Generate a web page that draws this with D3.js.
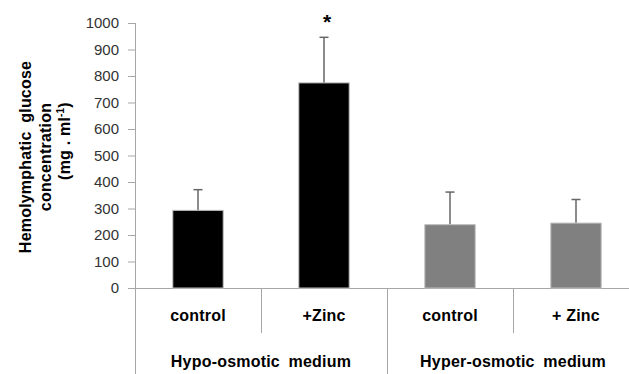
<html>
<script src='https://d3js.org/d3.v7.min.js'></script>
<style>
  body { margin: 0; background: #fff; }
  .lab { font-family: 'Liberation Sans', Arial, sans-serif; font-weight: bold; letter-spacing: 0.2px; fill: #000; }
</style>
<body onload='init()'>
<svg width=629 height=374></svg>
<script>
const categories = ['control', '+Zinc', 'control', '+ Zinc'];
const groups = ['Hypo-osmotic medium', 'Hyper-osmotic medium'];
const means = [293, 774, 239, 245];
const errors = [78, 172, 123, 89];
const barColors = ['#000000', '#000000', '#808080', '#808080'];
const yTicks = [0, 100, 200, 300, 400, 500, 600, 700, 800, 900, 1000];

function init() {
  const svg = d3.select('svg');
  const ids = d3.range(categories.length);
  const x = d3.scaleBand().domain(ids).range([135, 639]).paddingInner(0.6).paddingOuter(0.3);
  const y = d3.scaleLinear().domain([0, 1000]).range([288, 23]);
  const axisCol = '#a6a6a6';

  // y axis
  const ya = svg.append('g').attr('transform', 'translate(135,0)')
    .call(d3.axisLeft(y).tickValues(yTicks).tickFormat(d3.format('d')).tickSize(7).tickPadding(9));
  ya.select('.domain').remove();
  ya.selectAll('line').attr('stroke', axisCol);
  ya.selectAll('text').attr('font-family', "'Liberation Sans', Arial, sans-serif")
    .attr('font-size', 15).attr('fill', '#333');

  // axis lines and category dividers
  svg.append('line').attr('x1', 135.5).attr('x2', 135.5).attr('y1', y(1000)).attr('y2', 374).attr('stroke', axisCol);
  svg.append('line').attr('x1', 135).attr('x2', 629).attr('y1', y(0) + 0.5).attr('y2', y(0) + 0.5).attr('stroke', axisCol);
  const step = x.step();
  ids.forEach(i => {
    if (i === 0) return;
    const xx = Math.round(135 + i * step) + 0.5;
    svg.append('line').attr('x1', xx).attr('x2', xx).attr('y1', y(0))
      .attr('y2', i % 2 === 0 ? 374 : 333).attr('stroke', axisCol);
  });

  // error bars
  const eb = svg.append('g').attr('stroke', '#666').attr('stroke-width', 1.5);
  ids.forEach(i => {
    const cx = x(i) + x.bandwidth() / 2;
    eb.append('line').attr('x1', cx).attr('x2', cx).attr('y1', y(means[i])).attr('y2', y(means[i] + errors[i]));
    eb.append('line').attr('x1', cx - 4.5).attr('x2', cx + 4.5).attr('y1', y(means[i] + errors[i])).attr('y2', y(means[i] + errors[i]));
  });

  // bars
  svg.append('g').selectAll('rect').data(ids).enter().append('rect')
    .attr('x', i => x(i)).attr('width', x.bandwidth())
    .attr('y', i => y(means[i])).attr('height', i => y(0) - y(means[i]))
    .attr('fill', i => barColors[i]).attr('stroke', '#bfbfbf').attr('stroke-width', 1);

  // significance mark
  svg.append('text').attr('x', x(1) + x.bandwidth() / 2 + 3).attr('y', y(means[1] + errors[1]) - 8)
    .attr('text-anchor', 'middle').attr('font-family', "'Liberation Sans', Arial, sans-serif")
    .attr('font-weight', 'bold').attr('font-size', 21).text('*');

  // category labels
  svg.append('g').selectAll('text').data(ids).enter().append('text').attr('class', 'lab')
    .attr('x', i => x(i) + x.bandwidth() / 2).attr('y', 321).attr('text-anchor', 'middle')
    .attr('font-size', 16).text(i => categories[i]);

  // group labels
  svg.append('g').selectAll('text').data(groups).enter().append('text').attr('class', 'lab')
    .attr('x', (d, g) => 135 + (g * 2 + 1) * step).attr('y', 367).attr('text-anchor', 'middle')
    .attr('font-size', 16).attr('word-spacing', 4).text(d => d);

  // y title
  const t = svg.append('text').attr('class', 'lab').attr('font-size', 16)
    .attr('transform', 'translate(0,157) rotate(-90)').attr('text-anchor', 'middle');
  t.append('tspan').attr('x', 0).attr('y', 31).attr('word-spacing', 4).text('Hemolymphatic glucose');
  t.append('tspan').attr('x', 0).attr('y', 51).text('concentration');
  const t3 = svg.append('text').attr('class', 'lab').attr('font-size', 16)
    .attr('transform', 'translate(0,141) rotate(-90)').attr('text-anchor', 'middle');
  t3.append('tspan').attr('x', 0).attr('y', 70).text('(mg . ml');
  t3.append('tspan').attr('font-size', 10).attr('dy', -6).text('-1');
  t3.append('tspan').attr('dy', 6).text(')');
}
</script>
</body>
</html>
